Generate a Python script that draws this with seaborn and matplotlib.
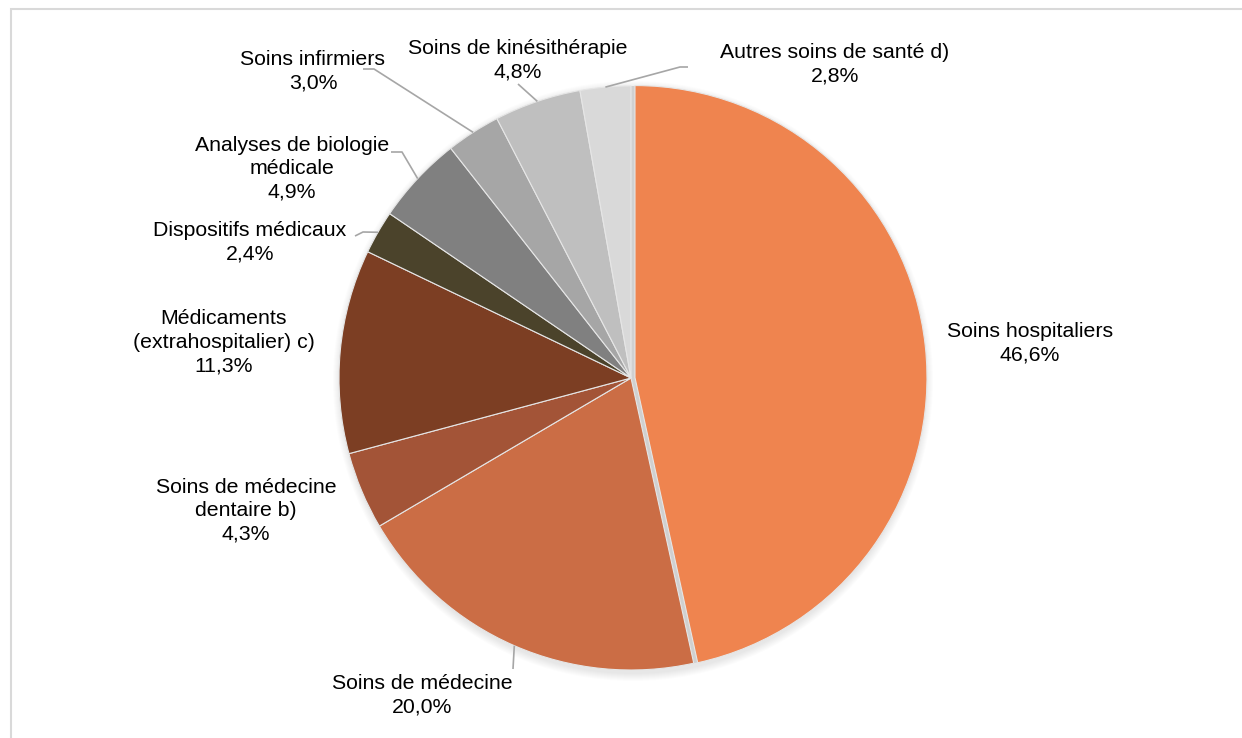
import numpy as np
import matplotlib
matplotlib.use('Agg')
import matplotlib.pyplot as plt
import seaborn as sns
from matplotlib.patches import Circle, Rectangle

sns.set_theme(style='white')
plt.rcParams['font.family'] = ['Liberation Sans', 'DejaVu Sans']

# ---- data ----
categories = ['Soins hospitaliers', 'Soins de médecine', 'Soins de médecine\ndentaire b)',
              'Médicaments\n(extrahospitalier) c)', 'Dispositifs médicaux',
              'Analyses de biologie\nmédicale', 'Soins infirmiers',
              'Soins de kinésithérapie', 'Autres soins de santé d)']
shares = [46.6, 20.0, 4.3, 11.3, 2.4, 4.9, 3.0, 4.8, 2.8]
colors = ['#EF844F', '#CB6D45', '#A35437', '#7C3E23', '#4B432B',
          '#808080', '#A6A6A6', '#BFBFBF', '#D9D9D9']

# label positions (pixel coords, y down) and leader elbows
label_pos = [(1030, 343), (422, 695), (246, 511), (224, 342), (250, 242),
             (292, 169), (313, 71), (518, 60), (835, 64)]
leaders = {1: [(513, 669)],
           4: [(355, 236), (363, 232)],
           5: [(391, 152), (402, 152)],
           6: [(363, 69), (374, 69)],
           7: [(518, 84)],
           8: [(688, 67), (680, 67)]}

W, H = 1242, 738
cx, cy, R = 631, H - 378, 292

fig = plt.figure(figsize=(W / 100, H / 100), dpi=100)
ax = fig.add_axes([0, 0, 1, 1])

# soft shadow + backing disc
for k in range(8, 0, -1):
    ax.add_patch(Circle((cx + 2, cy - 3), R + k, color='#000000', alpha=0.012, lw=0, zorder=0))
ax.add_patch(Circle((cx, cy), R, color='#D0D0D0', lw=0, zorder=0.5))

explode = [4] + [0] * (len(shares) - 1)
wedges, _ = ax.pie(shares, colors=colors, startangle=90, counterclock=False,
                   center=(cx, cy), radius=R, explode=explode,
                   wedgeprops=dict(edgecolor='#E6E6E6', linewidth=0.8))
for w in wedges:
    w.set_zorder(1)

ax.set_xlim(0, W)
ax.set_ylim(0, H)
ax.set_aspect('equal', adjustable='datalim')
ax.axis('off')

# labels
for i, (name, val, (lx, ly)) in enumerate(zip(categories, shares, label_pos)):
    txt = f"{name}\n{val:.1f}%".replace('.', ',')
    ax.text(lx, H - ly, txt, ha='center', va='center', fontsize=15.3,
            color='#000000', linespacing=1.3, zorder=3)

# leader lines from label to the middle of each wedge edge
for i, pts in leaders.items():
    w = wedges[i]
    th = np.deg2rad((w.theta1 + w.theta2) / 2)
    ax_pt = (cx + R * np.cos(th), cy + R * np.sin(th))
    xs = [p[0] for p in pts] + [ax_pt[0]]
    ys = [H - p[1] for p in pts] + [ax_pt[1]]
    ax.plot(xs, ys, color='#A6A6A6', lw=1.2, zorder=2, solid_capstyle='butt')

# chart frame
fig.patches.append(Rectangle((11 / W, -0.1), 1.2, (H - 9) / H + 0.1,
                             transform=fig.transFigure, fill=False,
                             edgecolor='#D9D9D9', lw=1.5))

fig.savefig('out.png', dpi=100)
